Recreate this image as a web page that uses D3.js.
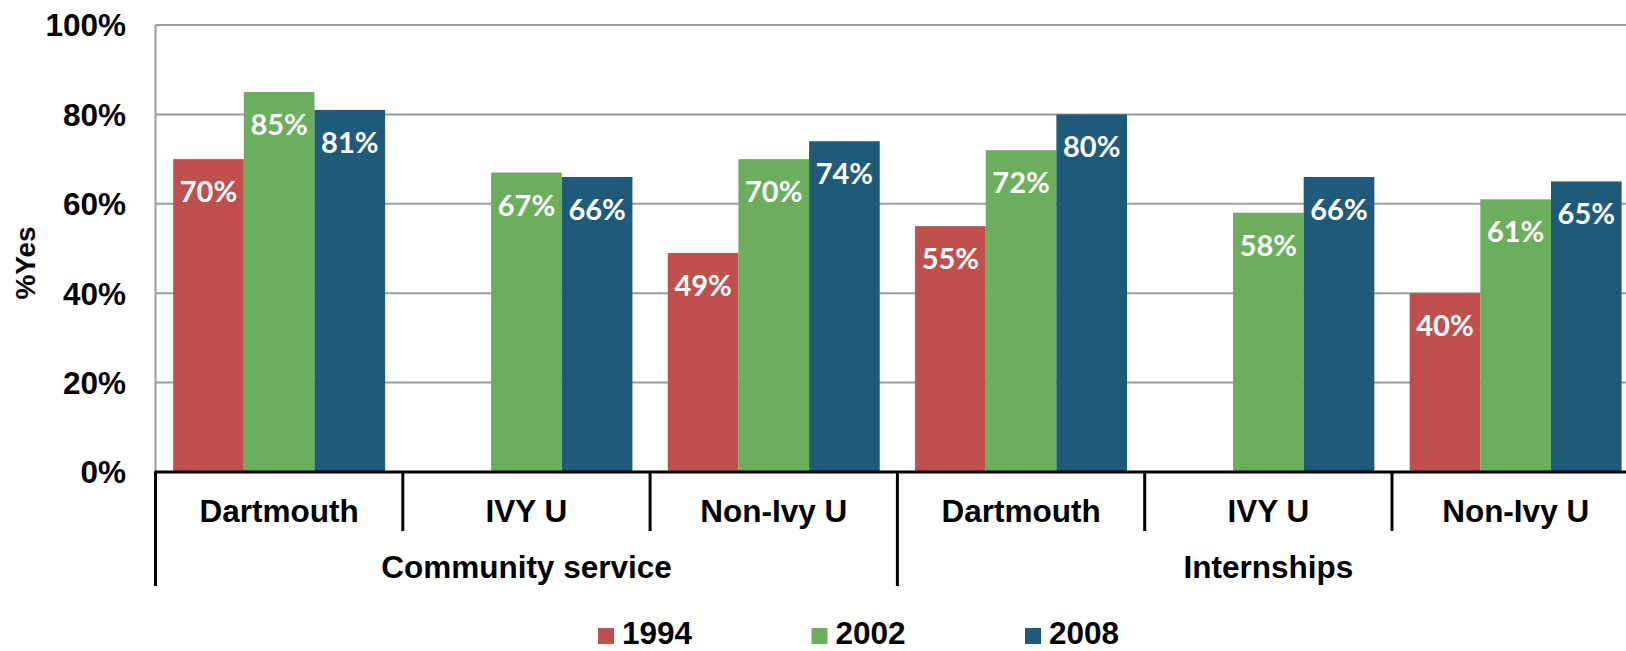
<!DOCTYPE html>
<html>
<head>
<meta charset="utf-8">
<script src="https://cdn.jsdelivr.net/npm/d3@7"></script>
<style>
  body { margin: 0; background: #fff; overflow: hidden; }
  text { font-family: "Liberation Sans", Arial, sans-serif; font-weight: bold; }
</style>
</head>
<body>
<div id="chart"></div>
<script>
const groups = ["Community service", "Internships"];
const schools = ["Dartmouth", "IVY U", "Non-Ivy U"];
const years = ["1994", "2002", "2008"];
const colors = ["#C0504D", "#6BAF5E", "#1F5A7B"];
// values per year, in order: CS Dartmouth, CS IVY U, CS Non-Ivy, Int Dartmouth, Int IVY U, Int Non-Ivy
const v1994 = [0.70, null, 0.49, 0.55, null, 0.40];
const v2002 = [0.85, 0.67, 0.70, 0.72, 0.58, 0.61];
const v2008 = [0.81, 0.66, 0.74, 0.80, 0.66, 0.65];
const yTicks = [0, 0.2, 0.4, 0.6, 0.8, 1.0];

const width = 1626, height = 651;
const plotLeft = 155.5, plotTop = 25, plotBottom = 472;
const band = 247.3;
const fs = 31.5;

const cats = [];
groups.forEach(g => schools.forEach(s => cats.push(g + "|" + s)));
const series = [v1994, v2002, v2008];

const svg = d3.select("#chart").append("svg")
    .attr("width", width)
    .attr("height", height);

const x = d3.scaleBand()
    .domain(cats)
    .range([plotLeft, plotLeft + band * cats.length])
    .paddingInner(0)
    .paddingOuter(0);

const xInner = d3.scaleBand()
    .domain(years)
    .range([0, band])
    .paddingOuter(0.25)
    .paddingInner(0);

const y = d3.scaleLinear().domain([0, 1]).range([plotBottom, plotTop]);

// gridlines
svg.append("g")
    .selectAll("line")
    .data(yTicks.filter(d => d > 0))
    .join("line")
    .attr("x1", plotLeft).attr("x2", width)
    .attr("y1", d => y(d)).attr("y2", d => y(d))
    .attr("stroke", "#9c9c9c")
    .attr("stroke-width", 2);

// left axis line
svg.append("line")
    .attr("x1", plotLeft).attr("x2", plotLeft)
    .attr("y1", plotTop).attr("y2", plotBottom)
    .attr("stroke", "#9c9c9c")
    .attr("stroke-width", 2);

// y tick labels
svg.append("g")
    .selectAll("text")
    .data(yTicks)
    .join("text")
    .attr("x", 126)
    .attr("y", d => y(d))
    .attr("dy", "0.36em")
    .attr("text-anchor", "end")
    .attr("font-size", fs)
    .text(d3.format(".0%"));

svg.append("text")
    .attr("transform", "translate(35,263) rotate(-90)")
    .attr("text-anchor", "middle")
    .attr("font-size", 28)
    .text("%Yes");

// bars
const barData = [];
series.forEach((vals, si) => {
    vals.forEach((v, ci) => {
        if (v != null) barData.push({ cat: cats[ci], year: years[si], value: v, color: colors[si] });
    });
});

const bars = svg.append("g")
    .selectAll("g")
    .data(barData)
    .join("g")
    .attr("transform", d => `translate(${x(d.cat) + xInner(d.year)},0)`);

bars.append("rect")
    .attr("x", 0)
    .attr("y", d => y(d.value))
    .attr("width", xInner.bandwidth())
    .attr("height", d => y(0) - y(d.value))
    .attr("fill", d => d.color);

bars.append("text")
    .attr("x", xInner.bandwidth() / 2)
    .attr("y", d => y(d.value) + 43)
    .attr("text-anchor", "middle")
    .attr("fill", "#fff")
    .attr("font-size", 29)
    .style("font-family", "Lato, 'Open Sans', sans-serif")
    .text(d => d3.format(".0%")(d.value));

// category axis
svg.append("line")
    .attr("x1", plotLeft - 1).attr("x2", width)
    .attr("y1", plotBottom).attr("y2", plotBottom)
    .attr("stroke", "#000")
    .attr("stroke-width", 3);

const seps = d3.range(cats.length + 1);
svg.append("g")
    .selectAll("line")
    .data(seps)
    .join("line")
    .attr("x1", i => plotLeft + i * band)
    .attr("x2", i => plotLeft + i * band)
    .attr("y1", plotBottom)
    .attr("y2", i => (i % 3 === 0) ? 586 : 531)
    .attr("stroke", "#000")
    .attr("stroke-width", 3);

svg.append("g")
    .selectAll("text")
    .data(cats)
    .join("text")
    .attr("x", d => x(d) + band / 2)
    .attr("y", 521.5)
    .attr("text-anchor", "middle")
    .attr("font-size", fs)
    .text(d => d.split("|")[1]);

svg.append("g")
    .selectAll("text")
    .data(groups)
    .join("text")
    .attr("x", (d, i) => plotLeft + band * (i * 3 + 1.5))
    .attr("y", 578)
    .attr("text-anchor", "middle")
    .attr("font-size", fs)
    .text(d => d);

// legend
const legend = svg.append("g")
    .selectAll("g")
    .data(years)
    .join("g")
    .attr("transform", (d, i) => `translate(${598 + i * 213.5},628)`);

legend.append("rect")
    .attr("width", 16).attr("height", 16)
    .attr("fill", (d, i) => colors[i]);

legend.append("text")
    .attr("x", 24)
    .attr("y", 16)
    .attr("font-size", fs)
    .text(d => d);
</script>
</body>
</html>
